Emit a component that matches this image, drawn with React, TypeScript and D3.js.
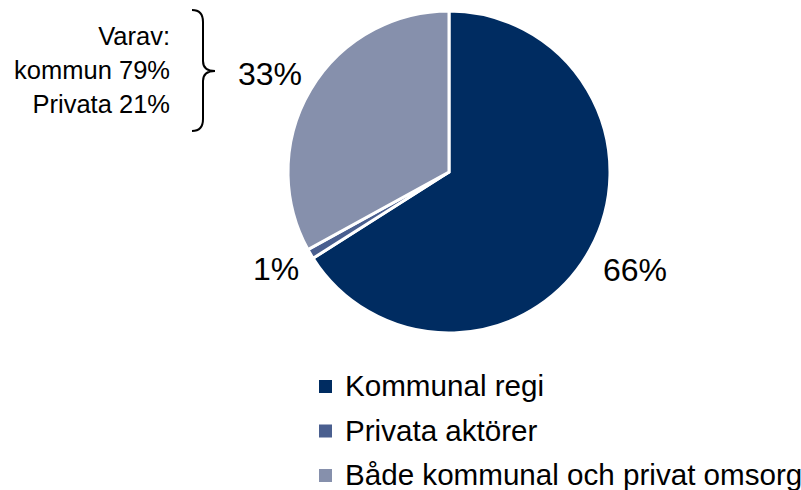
import React from "react";
import * as d3 from "d3";

const categories = ["Kommunal regi", "Privata aktörer", "Både kommunal och privat omsorg"];
const values = [66, 1, 33];
const labels = ["66%", "1%", "33%"];
const colors = ["#002C61", "#4A5F8F", "#8690AC"];
const noteLines = ["Varav:", "kommun 79%", "Privata 21%"];

const W = 801;
const H = 490;
const cx = 449;
const cy = 172;
const R = 161;

// label positions (x, baseline)
const labelPos: [number, number, string][] = [
  [635, 281, "middle"],
  [276, 280, "middle"],
  [270, 85, "middle"],
];

export default function App() {
  const pie = d3.pie<number>().sort(null).value((d) => d);
  const arcs = pie(values);
  const arc = d3.arc<d3.PieArcDatum<number>>().innerRadius(0).outerRadius(R);
  const font = "Arial, 'Liberation Sans', sans-serif";

  const braceTop = 10;
  const braceBot = 131;
  const braceMid = 71;
  const bx = 203;
  const bracePath = `M ${bx - 11} ${braceTop} Q ${bx} ${braceTop} ${bx} ${braceTop + 12}
    L ${bx} ${braceMid - 10} Q ${bx} ${braceMid} ${bx + 12} ${braceMid}
    Q ${bx} ${braceMid} ${bx} ${braceMid + 10}
    L ${bx} ${braceBot - 12} Q ${bx} ${braceBot} ${bx - 11} ${braceBot}`;

  return (
    <svg
      width={W}
      height={H}
      style={{ position: "absolute", left: 0, top: 0, background: "#fff" }}
      fontFamily={font}
    >
      <g transform={`translate(${cx},${cy})`}>
        {arcs.map((a, i) => (
          <path key={i} d={arc(a) || ""} fill={colors[i]} stroke="#fff" strokeWidth={3} strokeLinejoin="miter" />
        ))}
      </g>
      {labels.map((l, i) => (
        <text
          key={i}
          x={labelPos[i][0]}
          y={labelPos[i][1]}
          textAnchor={labelPos[i][2] as any}
          fontSize={32}
          fill="#000"
        >
          {l}
        </text>
      ))}
      {noteLines.map((t, i) => (
        <text key={i} x={170} y={45 + i * 34} textAnchor="end" fontSize={25.5} fill="#000">
          {t}
        </text>
      ))}
      <path d={bracePath} fill="none" stroke="#000" strokeWidth={2} />
      {categories.map((c, i) => {
        const base = 396 + i * 44.5;
        return (
          <g key={i}>
            <rect x={319} y={base - 16} width={13} height={13} fill={colors[i]} />
            <text x={345} y={base} fontSize={29.6} fill="#000">
              {c}
            </text>
          </g>
        );
      })}
    </svg>
  );
}
